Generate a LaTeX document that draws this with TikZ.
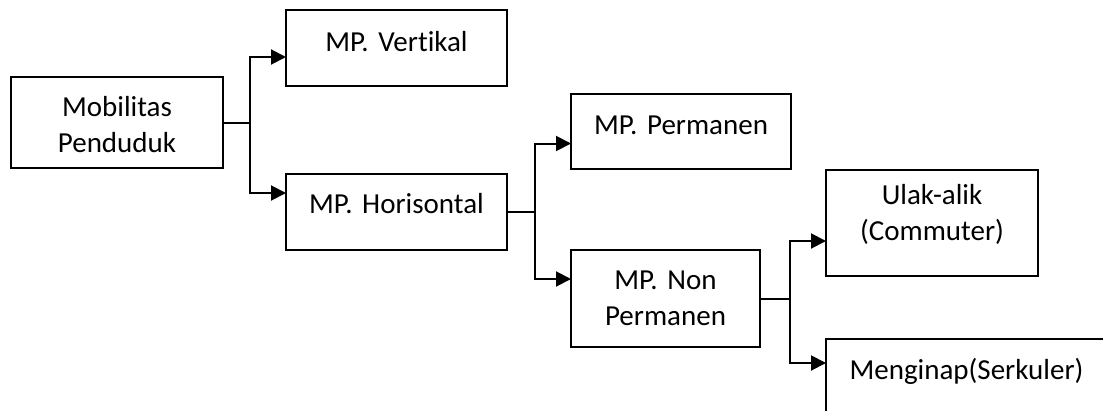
\documentclass[tikz,border=0pt]{standalone}
\usepackage{fontspec}
\setmainfont{Carlito}[Ligatures={NoCommon,NoContextual}]
\usetikzlibrary{arrows.meta}
\frenchspacing
\newcommand{\boxfont}{\fontsize{29pt}{36pt}\selectfont}
\begin{document}
\begin{tikzpicture}[x=1pt,y=-1pt,
  box/.style={draw, line width=2pt, inner sep=0pt, outer sep=0pt, anchor=north west, align=center, font=\boxfont},
  conn/.style={line width=2pt},
  arr/.style={line width=2pt, -{Triangle[length=15pt,width=15pt]}}]
\clip (0,0) rectangle (1103,410);
\fill[white] (0,0) rectangle (1103,410);
% boxes
\node[box, text width=212pt, text height=39pt, text depth=52pt] (mob) at (11,77) {Mobilitas\\Penduduk};
\node[box, text width=221pt, text height=41pt, text depth=35pt] (vert) at (286,10) {MP. Vertikal};
\node[box, text width=221pt, text height=39pt, text depth=37pt] (hor) at (286,174) {MP. Horisontal};
\node[box, text width=220pt, text height=40pt, text depth=35pt] (perm) at (571,94) {MP. Permanen};
\node[box, text width=189pt, text height=39pt, text depth=58pt] (nonp) at (571,250) {MP. Non\\Permanen};
\node[box, text width=212pt, text height=34pt, text depth=72pt] (ulak) at (826,170) {Ulak-alik\\(Commuter)};
\node[box, text width=281pt, text height=40pt, text depth=61pt] (meng) at (826,339) {Menginap(Serkuler)};
% junctions
\coordinate (j1) at (250,122.5);
\coordinate (j2) at (535,212);
\coordinate (j3) at (790,298.5);
% connectors
\draw[conn] (mob.east) -- (j1);
\draw[arr] (j1) |- ([yshift=-9pt]vert.west);
\draw[arr] (j1) |- ([yshift=19pt]hor.west);
\draw[conn] (hor.east) -- (j2);
\draw[arr] (j2) |- ([yshift=-12pt]perm.west);
\draw[arr] (j2) |- ([yshift=19.5pt]nonp.west);
\draw[conn] (nonp.east) -- (j3);
\draw[arr] (j3) |- ([yshift=-18pt]ulak.west);
\draw[arr] (j3) |- ([yshift=-24pt]meng.north west);
\end{tikzpicture}
\end{document}
